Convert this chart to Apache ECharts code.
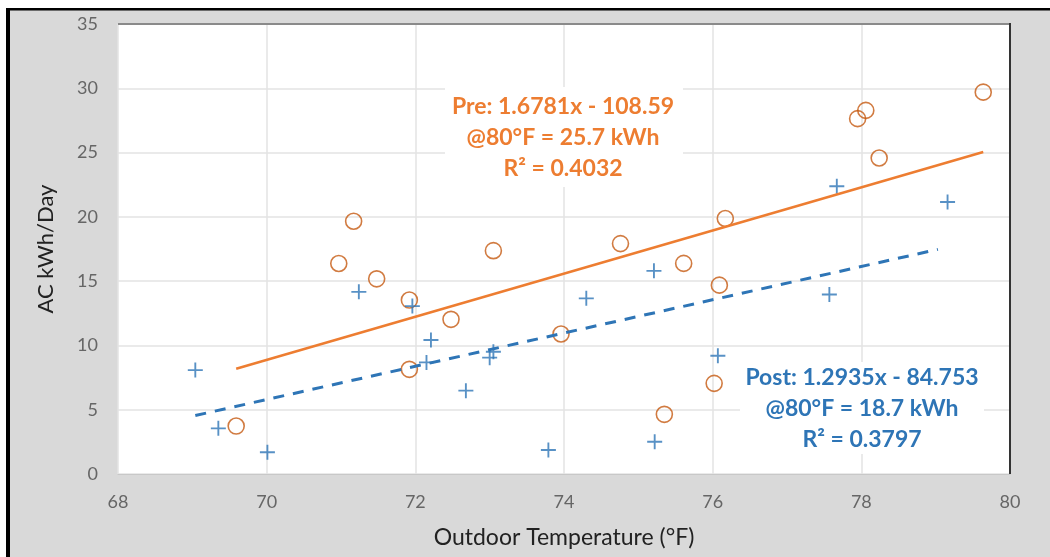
<!DOCTYPE html>
<html>
<head>
<meta charset="utf-8">
<script src="https://cdn.jsdelivr.net/npm/echarts@6/dist/echarts.min.js"></script>
<style>
html,body{margin:0;padding:0;background:#fff;}
#chart{width:1050px;height:557px;}
</style>
</head>
<body>
<div id="chart"></div>
<script>
// ---- data ----
var preX  = [69.59, 70.97, 71.17, 71.48, 71.92, 71.92, 72.48, 73.05, 73.96, 74.76, 75.35, 75.61, 76.02, 76.09, 76.17, 77.95, 78.06, 78.24, 79.64];
var preY  = [3.73, 16.37, 19.66, 15.18, 13.53, 8.14, 12.03, 17.37, 10.89, 17.92, 4.64, 16.38, 7.05, 14.69, 19.87, 27.64, 28.28, 24.58, 29.70];
var postX = [69.04, 69.35, 70.01, 71.24, 71.96, 72.21, 72.15, 72.68, 73.05, 73.00, 73.79, 74.30, 75.21, 75.22, 76.07, 77.57, 77.67, 79.16];
var postY = [8.08, 3.55, 1.69, 14.17, 13.06, 10.42, 8.68, 6.48, 9.51, 9.05, 1.87, 13.66, 15.80, 2.51, 9.20, 13.96, 22.38, 21.16];
var preTrendX  = [69.59, 79.64];
var preTrendY  = [8.19, 25.05];
var postTrendX = [69.04, 79.03];
var postTrendY = [4.55, 17.47];
var xTicks = [68, 70, 72, 74, 76, 78, 80];
var yTicks = [0, 5, 10, 15, 20, 25, 30, 35];
var preLabel  = ["Pre: 1.6781x - 108.59", "@80°F = 25.7 kWh", "R² = 0.4032"];
var postLabel = ["Post: 1.2935x - 84.753", "@80°F = 18.7 kWh", "R² = 0.3797"];
var xName = "Outdoor Temperature (°F)";
var yName = "AC kWh/Day";

function zip(a, b){ return a.map(function(v, i){ return [v, b[i]]; }); }

var chart = echarts.init(document.getElementById('chart'), null, {renderer:'canvas'});
var FONT = 'Lato, "Open Sans", sans-serif';
var plusPath = 'path://M7,0 L9,0 L9,7 L16,7 L16,9 L9,9 L9,16 L7,16 L7,9 L0,9 L0,7 L7,7 Z';

function labelBlock(lines, cx, y0, color, box){
  var els = [{
    type:'rect', z:50,
    shape:{x:box[0], y:box[1], width:box[2], height:box[3]},
    style:{fill:'#ffffff'}
  }];
  lines.forEach(function(t, i){
    els.push({
      type:'text', z:51,
      x:cx, y:y0 + i*31,
      style:{text:t, fill:color, font:'bold 23px ' + FONT, textAlign:'center', textVerticalAlign:'middle'}
    });
  });
  return els;
}

var graphics = [
  {type:'rect', z:60, shape:{x:0, y:0, width:1050, height:8}, style:{fill:'#ffffff'}},
  {type:'rect', z:60, shape:{x:0, y:0, width:6, height:557}, style:{fill:'#ffffff'}},
  {type:'rect', z:61, shape:{x:6, y:8, width:1044, height:2.5}, style:{fill:'#000000'}},
  {type:'rect', z:61, shape:{x:6, y:8, width:4, height:549}, style:{fill:'#000000'}},
  {type:'rect', z:55, shape:{x:118, y:23, width:892, height:2}, style:{fill:'#8a8a8a'}},
  {type:'rect', z:55, shape:{x:1009, y:23, width:2, height:451}, style:{fill:'#333333'}}
].concat(
  labelBlock(preLabel, 563, 107, '#ED7D31', [445, 87, 238, 100]),
  labelBlock(postLabel, 862, 378, '#2E75B6', [740, 362, 244, 92])
);

chart.setOption({
  backgroundColor:'#d9d9d9',
  animation:false,
  grid:{left:118, top:24, right:40, bottom:83, show:true, backgroundColor:'#ffffff', borderWidth:0},
  xAxis:{
    type:'value', min:xTicks[0], max:xTicks[xTicks.length-1], interval:2,
    name:xName, nameLocation:'middle', nameGap:52,
    nameTextStyle:{fontFamily:FONT, fontSize:23, color:'#222222'},
    axisLine:{show:true, lineStyle:{color:'#c8c8c8', width:1}},
    axisTick:{show:false},
    axisLabel:{fontFamily:FONT, fontSize:18, color:'#666666', margin:19},
    splitLine:{show:true, lineStyle:{color:'#e3e3e3', width:1.5}}
  },
  yAxis:{
    type:'value', min:yTicks[0], max:yTicks[yTicks.length-1], interval:5,
    name:yName, nameLocation:'middle', nameGap:61, nameRotate:90,
    nameTextStyle:{fontFamily:FONT, fontSize:22, color:'#222222'},
    axisLine:{show:false},
    axisTick:{show:false},
    axisLabel:{fontFamily:FONT, fontSize:18, color:'#666666', margin:20},
    splitLine:{show:true, lineStyle:{color:'#e3e3e3', width:1.5}}
  },
  graphic:graphics,
  series:[
    {
      type:'scatter', name:'Pre', data:zip(preX, preY), z:3,
      symbol:'circle', symbolSize:16,
      itemStyle:{color:'rgba(0,0,0,0)', borderColor:'#C55A11', borderWidth:1.6}
    },
    {
      type:'scatter', name:'Post', data:zip(postX, postY), z:4,
      symbol:plusPath, symbolSize:15,
      itemStyle:{color:'#2E75B6'}
    },
    {
      type:'line', name:'Pre trend', data:zip(preTrendX, preTrendY), z:5,
      symbol:'none', lineStyle:{color:'#ED7D31', width:2.5}
    },
    {
      type:'line', name:'Post trend', data:zip(postTrendX, postTrendY), z:5,
      symbol:'none', lineStyle:{color:'#2E75B6', width:3, type:[11, 9]}
    }
  ]
});
</script>
</body>
</html>
